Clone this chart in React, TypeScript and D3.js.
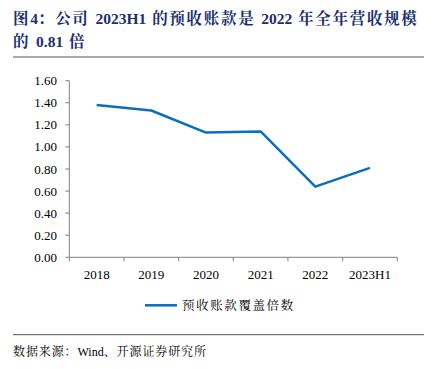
import React from "react";
import * as d3 from "d3";

const categories = ["2018", "2019", "2020", "2021", "2022", "2023H1"];
const values = [1.38, 1.33, 1.13, 1.14, 0.64, 0.81];
const yTicks = [0, 0.2, 0.4, 0.6, 0.8, 1.0, 1.2, 1.4, 1.6];
const seriesName = "预收账款覆盖倍数";
const titleLines = ["图4：公司 2023H1 的预收账款是 2022 年全年营收规模", "的 0.81 倍"];
const sourceText = "数据来源：Wind、开源证券研究所";

const W = 438, H = 369;
const left = 69.3, right = 397.3, top = 80.7, bottom = 257.3;
const serif = '"Liberation Serif", "Noto Sans CJK SC", serif';
const cjk = '"Liberation Serif", "Noto Serif CJK SC", "Noto Sans CJK SC", serif';

function runs(s: string) {
  return s.match(/[\u3000-\u9fff\uff00-\uffef]+|[^\u3000-\u9fff\uff00-\uffef]+/g) || [];
}

function Spaced({ text, cjkSpacing }: { text: string; cjkSpacing: number }) {
  return (
    <>
      {runs(text).map((r, i) => {
        const isCjk = /[\u3000-\u9fff\uff00-\uffef]/.test(r);
        return (
          <tspan key={i} letterSpacing={isCjk ? cjkSpacing : 0}>{r}</tspan>
        );
      })}
    </>
  );
}

export default function App() {
  const x = d3.scaleBand<string>().domain(categories).range([left, right]).padding(0);
  const y = d3.scaleLinear().domain([0, 1.6]).range([bottom, top]);
  const line = d3.line<number>()
    .x((_, i) => (x(categories[i]) as number) + x.bandwidth() / 2)
    .y((d) => y(d));
  const axisColor = "#7f7f7f";
  const ticksX = [...categories.map((c) => x(c) as number), right];
  return (
    <svg width={W} height={H} style={{ position: "absolute", left: 0, top: 0, background: "#fff" }}>
      {titleLines.map((t, i) => (
        <text key={i} x={13} y={24 + i * 23} fontFamily={cjk} fontWeight="bold" fontSize={15.5} wordSpacing={2} fill="#1c2f6e">
          <Spaced text={t} cjkSpacing={1.7} />
        </text>
      ))}
      <line x1={13} x2={424} y1={57} y2={57} stroke="#8c8c8c" strokeWidth={1.5} />
      <line x1={left} x2={left} y1={top} y2={bottom} stroke={axisColor} strokeWidth={1} />
      {yTicks.map((t) => (
        <g key={t}>
          <line x1={left - 4} x2={left} y1={y(t)} y2={y(t)} stroke={axisColor} />
          <text x={57} y={y(t)} dy="0.35em" textAnchor="end" fontFamily={serif} fontSize={13} fill="#000">{t.toFixed(2)}</text>
        </g>
      ))}
      <line x1={left} x2={right} y1={bottom} y2={bottom} stroke={axisColor} strokeWidth={1} />
      {ticksX.map((tx, i) => (
        <line key={i} x1={tx} x2={tx} y1={bottom} y2={bottom + 4} stroke={axisColor} />
      ))}
      {categories.map((c) => (
        <text key={c} x={(x(c) as number) + x.bandwidth() / 2} y={274} dy="0.35em" textAnchor="middle" fontFamily={serif} fontSize={13} fill="#000">{c}</text>
      ))}
      <path d={line(values) || ""} fill="none" stroke="#0a6ebd" strokeWidth={2.5} strokeLinejoin="round" />
      <line x1={145} x2={177} y1={305.3} y2={305.3} stroke="#0a6ebd" strokeWidth={2.5} />
      <text x={182} y={305.3} dy="0.35em" fontFamily={cjk} fontSize={12.5} letterSpacing={1.6} fill="#000">{seriesName}</text>
      <line x1={13} x2={424} y1={334.7} y2={334.7} stroke="#555" strokeWidth={1} />
      <text x={13} y={352} dy="0.3em" fontFamily={cjk} fontSize={12} fill="#000">
        <Spaced text={sourceText} cjkSpacing={0.9} />
      </text>
    </svg>
  );
}
